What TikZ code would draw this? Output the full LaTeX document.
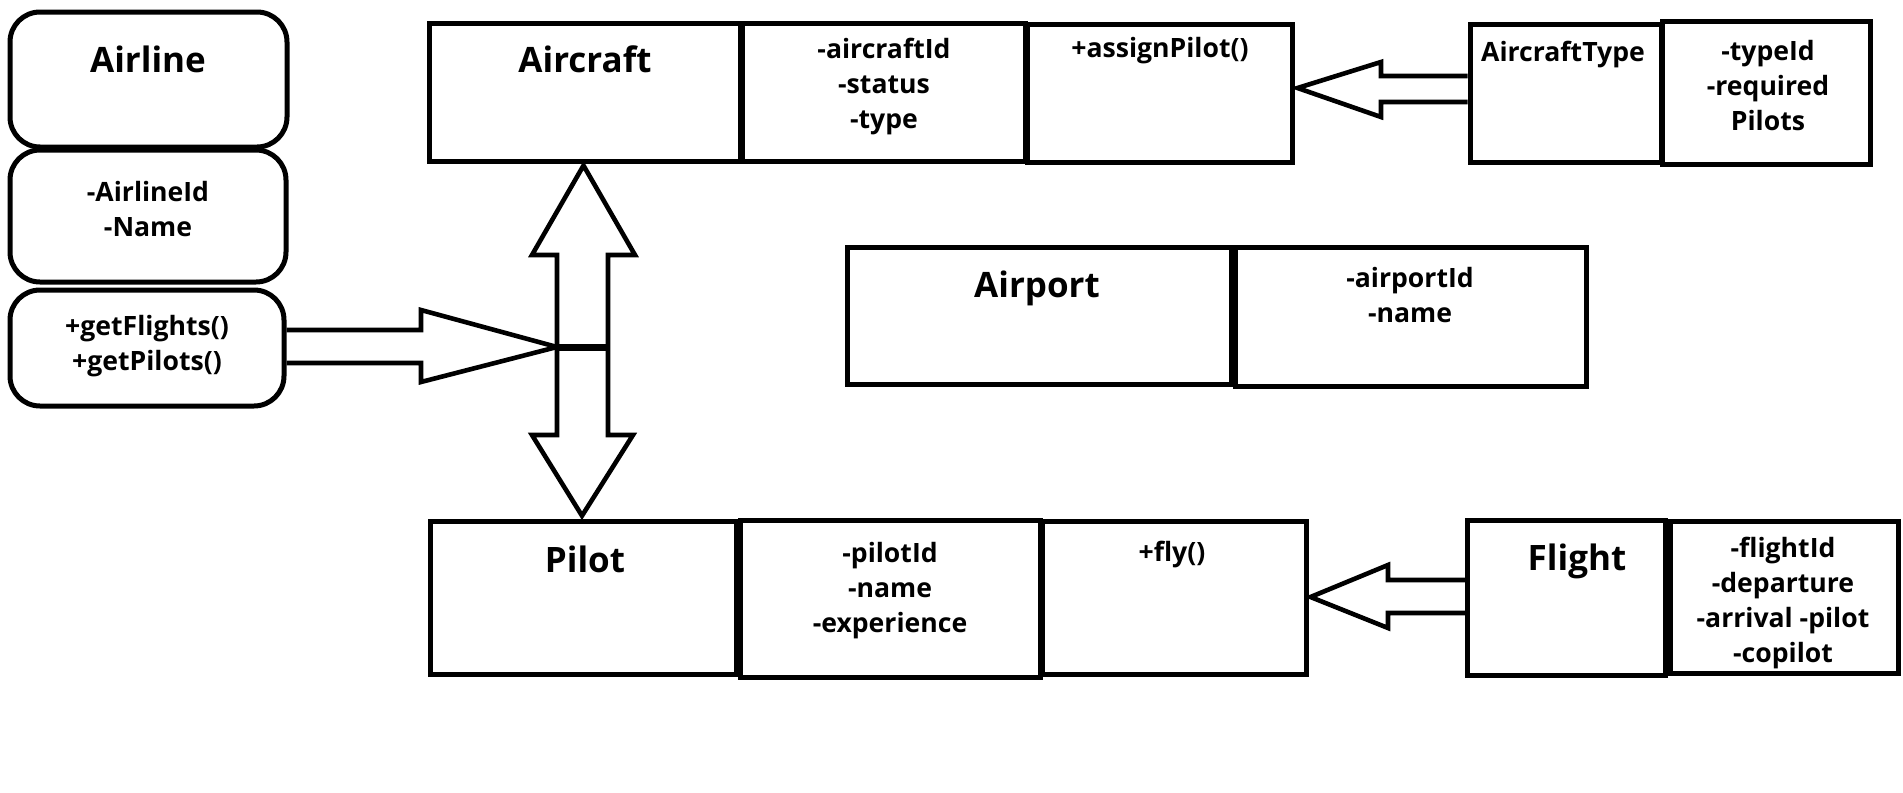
\documentclass[tikz,border=0pt]{standalone}
\usepackage{fontspec}
\setmainfont{Open Sans}
\usetikzlibrary{calc}
\tikzset{
  box/.style={draw, line width=2.5pt, rectangle, inner sep=0pt},
  rbox/.style={draw, line width=2.5pt, rectangle, rounded corners=15pt, inner sep=0pt},
  conn/.style={draw, line width=2.3pt, line join=miter},
  ttl/.style={inner sep=0pt, anchor=base, font=\bfseries\fontsize{17.5}{21}\selectfont},
  att/.style={inner sep=0pt, anchor=base, font=\bfseries\fontsize{13.3}{17.5}\selectfont},
}
\newcommand{\lns}[1]{\setlength{\tabcolsep}{0pt}\begin{tabular}[t]{c}#1\end{tabular}}
\begin{document}
\begin{tikzpicture}[x=0.5pt,y=-0.5pt]
\useasboundingbox[fill=white] (0,0) rectangle (1903,793);

% Airline (rounded)
\node[rbox, minimum width=138.5pt, minimum height=67.5pt] (airline1) at (148.5,79.5) {};
\node[rbox, minimum width=138pt, minimum height=66pt] (airline2) at (148,216) {};
\node[rbox, minimum width=137pt, minimum height=58pt] (airline3) at (147,348) {};
\node[ttl] (airlineT) at (148,72) {Airline};
\node[att] (airlineA) at (148,201) {\lns{-AirlineId\\-Name}};
\node[att] (airlineM) at (147,335) {\lns{+getFlights()\\+getPilots()}};

% Aircraft
\node[box, minimum width=155.5pt, minimum height=69pt] (aircraft) at (584.5,92) {};
\node[box, minimum width=141.5pt, minimum height=69pt] (acattr) at (883.5,92) {};
\node[box, minimum width=132.5pt, minimum height=69pt] (acmeth) at (1159.5,93) {};
\node[ttl] (aircraftT) at (585,72) {Aircraft};
\node[att] (acattrT) at (884,58) {\lns{-aircraftId\\-status\\-type}};
\node[att] (acmethT) at (1160,57) {+assignPilot()};

% AircraftType
\node[box, minimum width=95.5pt, minimum height=69pt] (actype) at (1565.5,93.5) {};
\node[box, minimum width=104pt, minimum height=71.5pt] (actattr) at (1766,93) {};
\node[att] (actypeT) at (1563,61) {AircraftType};
\node[att] (actattrT) at (1768,60) {\lns{-typeId\\-required\\Pilots}};

% Airport
\node[box, minimum width=192pt, minimum height=68.5pt] (airport) at (1039,315.5) {};
\node[box, minimum width=175.5pt, minimum height=69.5pt] (apattr) at (1410.5,316.5) {};
\node[ttl] (airportT) at (1037,297) {Airport};
\node[att] (apattrT) at (1410,287) {\lns{-airportId\\-name}};

% Pilot
\node[box, minimum width=153pt, minimum height=76.75pt] (pilot) at (583,598) {};
\node[box, minimum width=150pt, minimum height=78.5pt] (pattr) at (890,598.5) {};
\node[box, minimum width=132pt, minimum height=76.75pt] (pmeth) at (1174,598) {};
\node[ttl] (pilotT) at (585,572) {Pilot};
\node[att] (pattrT) at (890,562) {\lns{-pilotId\\-name\\-experience}};
\node[att] (pmethT) at (1172,561) {+fly()};

% Flight
\node[box, minimum width=99pt, minimum height=77.25pt] (flight) at (1566.5,598) {};
\node[box, minimum width=114pt, minimum height=76pt] (fattr) at (1784,597) {};
\node[ttl] (flightT) at (1577,570) {Flight};
\node[att] (fattrT) at (1783,557) {\lns{-flightId\\-departure\\-arrival -pilot\\-copilot}};

% Airline -> junction (hollow block arrow)
\coordinate (jn) at (557,347);
\path[conn] (airline3.east |- 0,330) -- (421,330) -- (421,310) -- (jn)
  -- (421,382) -- (421,363) -- (airline3.east |- 0,363);

% double block arrow Aircraft <-> Pilot
\path[conn] ($(aircraft.south)+(-1,2)$) -- (635,255) -- (608,255) -- (608,435)
  -- (633,435) -- ($(pilot.north)+(-1,-3)$) -- (532,435) -- (557,435)
  -- (557,255) -- (532,255) -- cycle;
\draw[line width=3.5pt] (jn) -- (608,347);

% AircraftType -> Aircraft
\path[conn] (actype.west |- 0,76) -- (1381,76) -- (1381,62)
  -- ($(acmeth.east)+(3,-5)$) -- (1381,117) -- (1381,102) -- (actype.west |- 0,102);

% Flight -> Pilot
\path[conn] (flight.west |- 0,580) -- (1388,580) -- (1388,565)
  -- ($(pmeth.east)+(2,-1)$) -- (1388,628) -- (1388,613) -- (flight.west |- 0,613);
\end{tikzpicture}
\end{document}
